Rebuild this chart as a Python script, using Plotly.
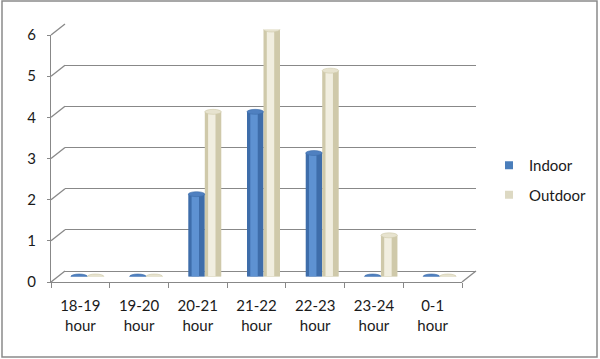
import plotly.graph_objects as go

categories = ["18-19<br>hour", "19-20<br>hour", "20-21<br>hour", "21-22<br>hour",
              "22-23<br>hour", "23-24<br>hour", "0-1<br>hour"]
indoor = [0, 0, 2, 4, 3, 0, 0]
outdoor = [0, 0, 4, 6, 5, 1, 0]
y_ticks = [0, 1, 2, 3, 4, 5, 6]

# pixel geometry of the pseudo-3D frame
W, H = 425.0, 258.0          # plot area (front + depth)
DX, DY = 14.0, 11.0          # depth offset of back wall
FW, FH = W - DX, H - DY      # front plane size

GRID = "#888888"
FONT = dict(family="Lato, 'Open Sans', sans-serif", size=15, color="#1a1a1a")

series = [
    ("Indoor", indoor, "#3E6DAA", "#5E92D2", "#4F80C0", "#4A7EBB", -0.281),
    ("Outdoor", outdoor, "#CFC9AA", "#F1EEE0", "#E7E3CF", "#DDD9C3", 0.0),
]
BW = 0.281

fig = go.Figure()
# invisible traces so the front and back axis frames get drawn
fig.add_trace(go.Scatter(x=categories, y=outdoor, mode="none", showlegend=False,
                         hoverinfo="skip", xaxis="x", yaxis="y"))
fig.add_trace(go.Scatter(x=categories, y=outdoor, mode="none", showlegend=False,
                         hoverinfo="skip", xaxis="x2", yaxis="y2"))

shapes = []
for name, vals, base, hi, top, legc, off in series:
    fig.add_trace(go.Bar(x=categories, y=vals, name=name, width=BW, offset=off,
                         marker=dict(color=base, line=dict(width=0)),
                         xaxis="x3", yaxis="y3", showlegend=False, hoverinfo="x+y"))
    fig.add_trace(go.Bar(x=categories, y=vals, width=BW * 0.45, offset=off + BW * 0.2,
                         marker=dict(color=hi, line=dict(width=0)),
                         xaxis="x3", yaxis="y3", showlegend=False, hoverinfo="skip"))
    # legend entry (small square like the original)
    fig.add_trace(go.Scatter(x=[None], y=[None], mode="markers", name=name,
                             legendgroup=name,
                             marker=dict(symbol="square", size=8, color=legc),
                             xaxis="x3", yaxis="y3", showlegend=True))
    for i, v in enumerate(vals):
        shapes.append(dict(type="circle", xref="x3", yref="y3", layer="below",
                           x0=i + off, x1=i + off + BW, y0=-0.05, y1=0.05,
                           fillcolor=base, line=dict(width=0)))
        shapes.append(dict(type="circle", xref="x3", yref="y3", layer="above",
                           x0=i + off, x1=i + off + BW, y0=v - 0.06, y1=v + 0.06,
                           fillcolor=top, line=dict(width=0.6, color=base)))

# side wall connectors (front tick -> back gridline)
for v in y_ticks:
    yf = v / 6 * FH / H
    shapes.append(dict(type="line", xref="paper", yref="paper",
                       x0=0, y0=yf, x1=DX / W, y1=yf + DY / H,
                       line=dict(color=GRID, width=1.3), layer="below"))
# floor right edge
shapes.append(dict(type="line", xref="paper", yref="paper",
                   x0=FW / W, y0=0, x1=1, y1=DY / H,
                   line=dict(color=GRID, width=1.3), layer="below"))
# outer chart border
shapes.append(dict(type="rect", xref="paper", yref="paper",
                   x0=(2 - 51) / W, x1=(597 - 51) / W,
                   y0=(282 - 357) / H, y1=(282 - 1) / H,
                   line=dict(color="#8a8a8a", width=1.5), layer="below"))

fig.update_layout(
    width=600, height=359,
    margin=dict(l=51, r=600 - 51 - W, t=24, b=359 - 24 - H, autoexpand=False),
    paper_bgcolor="white", plot_bgcolor="rgba(0,0,0,0)",
    barmode="overlay",
    font=FONT,
    showlegend=True,
    legend=dict(x=(489 - 51) / W, y=(282 - 180) / H, xanchor="left", yanchor="middle",
                font=dict(size=15), traceorder="grouped", itemwidth=30,
                tracegroupgap=7, bgcolor="rgba(0,0,0,0)"),
    shapes=shapes,
    xaxis=dict(domain=[0, FW / W], type="category", range=[-0.5, 6.5],
               categoryorder="array", categoryarray=categories,
               showline=True, linecolor=GRID, linewidth=1.3,
               ticks="outside", tickson="boundaries", ticklen=5, tickcolor=GRID,
               ticklabelstandoff=10,
               showgrid=False, anchor="y", tickfont=FONT),
    yaxis=dict(domain=[0, FH / H], range=[0, 6], tickvals=y_ticks,
               showline=True, linecolor=GRID, linewidth=1.3,
               ticks="outside", ticklen=3, tickcolor=GRID,
               ticklabelstandoff=8,
               showgrid=False, zeroline=False, anchor="x", tickfont=FONT),
    xaxis2=dict(domain=[DX / W, 1], type="category", range=[-0.5, 6.5],
                categoryorder="array", categoryarray=categories,
                showticklabels=False, showgrid=False, showline=False,
                zeroline=False, anchor="y2", ticks=""),
    yaxis2=dict(domain=[DY / H, 1], range=[0, 6], tickvals=y_ticks,
                showticklabels=False, showgrid=True, gridcolor=GRID, gridwidth=1.3,
                zeroline=True, zerolinecolor=GRID, zerolinewidth=1.3,
                showline=False, anchor="x2", ticks=""),
    xaxis3=dict(domain=[DX / 2 / W, (FW + DX / 2) / W], type="category", range=[-0.5, 6.5],
                categoryorder="array", categoryarray=categories,
                showticklabels=False, showgrid=False, showline=False,
                zeroline=False, anchor="y3", ticks=""),
    yaxis3=dict(domain=[DY / 2 / H, (FH + DY / 2) / H], range=[0, 6],
                showticklabels=False, showgrid=False, showline=False,
                zeroline=False, anchor="x3", ticks=""),
)

fig.write_html("out.html")
